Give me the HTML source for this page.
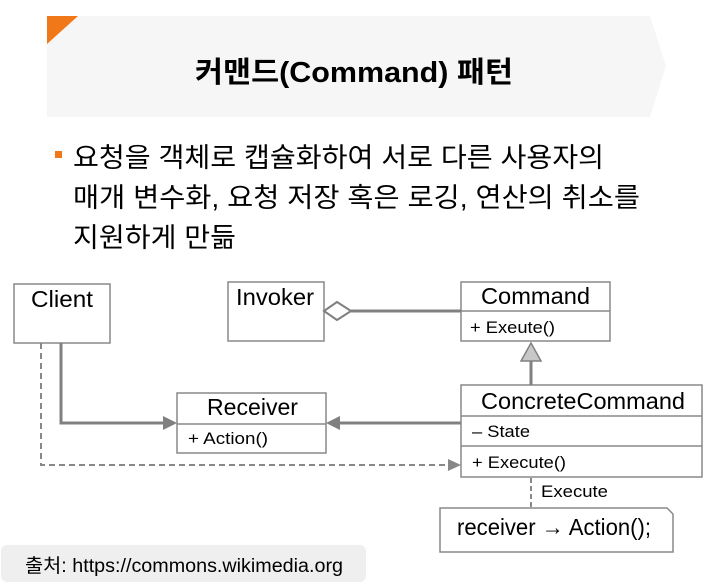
<!DOCTYPE html>
<html><head><meta charset="utf-8"><style>
html,body{margin:0;padding:0;background:#fff;}
svg{display:block;}
text{font-family:"Liberation Sans","Noto Sans CJK KR",sans-serif;fill:#000;}
</style></head><body>
<svg width="706" height="586" viewBox="0 0 706 586" xmlns="http://www.w3.org/2000/svg">
<polygon points="47,16 650,16 666,66 650,117 47,117" fill="#f6f6f6"/>
<polygon points="47,16 78,16 47,44" fill="#f07818"/>
<text x="354" y="82" text-anchor="middle" font-size="29" font-weight="bold" textLength="318" lengthAdjust="spacingAndGlyphs">커맨드(Command) 패턴</text>
<rect x="55" y="151" width="7" height="7" fill="#f07818"/>
<text x="73" y="167" font-size="27" textLength="531" lengthAdjust="spacingAndGlyphs">요청을 객체로 캡슐화하여 서로 다른 사용자의</text>
<text x="73" y="207" font-size="27" textLength="567" lengthAdjust="spacingAndGlyphs">매개 변수화, 요청 저장 혹은 로깅, 연산의 취소를</text>
<text x="73" y="247" font-size="27" textLength="163" lengthAdjust="spacingAndGlyphs">지원하게 만듦</text>
<g fill="#fff" stroke="#888" stroke-width="1.5">
<rect x="14" y="284" width="96" height="59"/>
<rect x="228" y="282" width="96" height="59"/>
<rect x="461" y="282" width="149" height="59"/>
<line x1="461" y1="311" x2="610" y2="311"/>
<rect x="177" y="393" width="149" height="60"/>
<line x1="177" y1="424" x2="326" y2="424"/>
<rect x="461" y="385" width="241" height="92"/>
<line x1="461" y1="416" x2="702" y2="416"/>
<line x1="461" y1="446" x2="702" y2="446"/>
<polygon points="440,508 667,508 673,514 673,552 440,552"/>
</g>
<g stroke="#808080" stroke-width="3" fill="none">
<line x1="351" y1="311" x2="461" y2="311"/>
<polyline points="61,343 61,423 165,423"/>
<line x1="340" y1="423" x2="461" y2="423"/>
<line x1="531" y1="361" x2="531" y2="385"/>
</g>
<polygon points="324,311 337,302 351,311 337,320" fill="#fff" stroke="#808080" stroke-width="2"/>
<polygon points="177,423 163,416 163,430" fill="#808080"/>
<polygon points="326,423 340,416 340,430" fill="#808080"/>
<polygon points="531,343 521,361 541,361" fill="#c8c8c8" stroke="#808080" stroke-width="1.5"/>
<polyline points="41,343 41,465 449,465" fill="none" stroke="#888" stroke-width="2" stroke-dasharray="6,4"/>
<polygon points="461,465 448,459 448,471" fill="#888"/>
<line x1="531" y1="478" x2="531" y2="508" stroke="#888" stroke-width="2" stroke-dasharray="5,3"/>
<g font-size="23" lengthAdjust="spacingAndGlyphs">
<text x="31" y="307" textLength="62" lengthAdjust="spacingAndGlyphs">Client</text>
<text x="236" y="305" textLength="78" lengthAdjust="spacingAndGlyphs">Invoker</text>
<text x="481" y="304" textLength="109" lengthAdjust="spacingAndGlyphs">Command</text>
<text x="207" y="415" textLength="91" lengthAdjust="spacingAndGlyphs">Receiver</text>
<text x="481" y="409" textLength="204" lengthAdjust="spacingAndGlyphs">ConcreteCommand</text>
</g>
<g font-size="17">
<text x="470" y="333" textLength="85" lengthAdjust="spacingAndGlyphs">+ Exeute()</text>
<text x="188" y="444" textLength="80" lengthAdjust="spacingAndGlyphs">+ Action()</text>
<text x="472" y="437" textLength="58" lengthAdjust="spacingAndGlyphs">– State</text>
<text x="472" y="468" textLength="94" lengthAdjust="spacingAndGlyphs">+ Execute()</text>
<text x="541" y="497" textLength="67" lengthAdjust="spacingAndGlyphs">Execute</text>
</g>
<text x="457" y="535" font-size="23" textLength="194" lengthAdjust="spacingAndGlyphs">receiver → Action();</text>
<rect x="1" y="545" width="365" height="37" rx="6" fill="#efefef"/>
<text x="25" y="572" font-size="19" fill="#333" textLength="318" lengthAdjust="spacingAndGlyphs">출처: https://commons.wikimedia.org</text>
</svg>
</body></html>
